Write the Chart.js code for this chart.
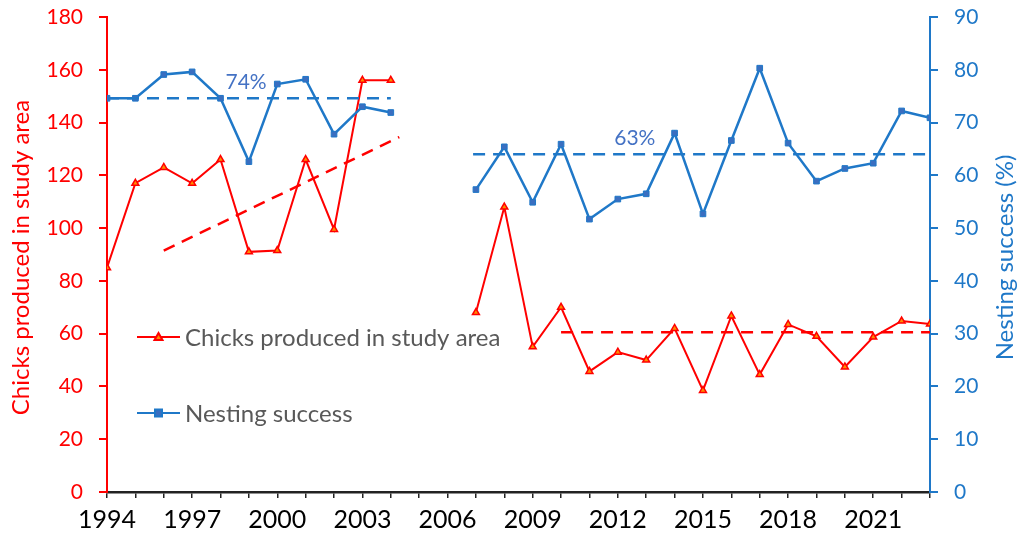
<!DOCTYPE html>
<html>
<head>
<meta charset="utf-8">
<script src="https://cdn.jsdelivr.net/npm/chart.js@4.4.0/dist/chart.umd.min.js"></script>
<style>
  html, body { margin: 0; padding: 0; background: #fff; }
  #wrap { width: 1018px; height: 541px; }
</style>
</head>
<body>
<div id="wrap"><canvas id="myChart"></canvas></div>
<script>
// data
let years = [1994, 1995, 1996, 1997, 1998, 1999, 2000, 2001, 2002, 2003, 2004, 2005, 2006,
  2007, 2008, 2009, 2010, 2011, 2012, 2013, 2014, 2015, 2016, 2017, 2018, 2019, 2020, 2021, 2022, 2023];
let chicks = [85, 117, 123, 117, 126, 91, 91.5, 126, 99.5, 156, 156, null, null,
  68, 108, 55, 70, 45.7, 53, 50, 62, 38.5, 66.7, 44.5, 63.5, 59, 47.4, 58.7, 64.8, 63.7];
let nesting = [74.6, 74.6, 79.1, 79.6, 74.6, 62.6, 77.3, 78.2, 67.8, 73, 71.9, null, null,
  57.3, 65.4, 54.9, 65.9, 51.7, 55.5, 56.5, 68, 52.7, 66.6, 80.3, 66.1, 58.9, 61.3, 62.3, 72.2, 70.9];

// reference lines
let chicksTrend = [[1996, 91.5], [2004.3, 134.5]];
let chicksMean = [[2010, 60.5], [2023, 60.5]];
let nestMeanEarly = [[1994, 74.6], [2004, 74.6]];
let nestMeanLate = [[2006.9, 64], [2023, 64]];
let meanLabels = [['74%', 1998.9, 77.7], ['63%', 2012.6, 67.1]];

let xTickLabels = [1994, 1997, 2000, 2003, 2006, 2009, 2012, 2015, 2018, 2021];

const RED = '#FF0000';
const BLUE = '#1F78C8';
const FONT = 'Lato, "Open Sans", sans-serif';

function pts(xs, ys) {
  return xs.map((x, i) => ({ x: x, y: ys[i] }));
}
function pairs(list) {
  return list.map(p => ({ x: p[0], y: p[1] }));
}

const dashed = (arr, color, axis) => ({
  data: pairs(arr),
  yAxisID: axis,
  borderColor: color,
  borderWidth: 2.5,
  borderDash: [12, 8],
  pointRadius: 0,
  fill: false
});

const legendPlugin = {
  id: 'customLegend',
  afterDraw(chart) {
    const ctx = chart.ctx;
    const xs = chart.scales.x;
    const yr = chart.scales.y2;
    const area = chart.chartArea;
    const midY = (area.top + area.bottom) / 2;
    ctx.save();
    // axis titles, both reading bottom to top
    ctx.font = '24px ' + FONT;
    ctx.textAlign = 'center';
    ctx.textBaseline = 'middle';
    [[21, RED, 'Chicks produced in study area'], [1005, BLUE, 'Nesting success (%)']].forEach(t => {
      ctx.save();
      ctx.translate(t[0], midY + 3);
      ctx.rotate(-Math.PI / 2);
      ctx.fillStyle = t[1];
      ctx.fillText(t[2], 0, 0);
      ctx.restore();
    });
    // mean labels
    ctx.font = '21px ' + FONT;
    ctx.fillStyle = '#4472C4';
    meanLabels.forEach(m => {
      ctx.fillText(m[0], xs.getPixelForValue(m[1]), yr.getPixelForValue(m[2]));
    });
    // legend entries
    const items = [
      { text: 'Chicks produced in study area', color: RED, y: 337, shape: 'tri' },
      { text: 'Nesting success', color: BLUE, y: 413, shape: 'sq' }
    ];
    ctx.font = '24px ' + FONT;
    ctx.textAlign = 'left';
    items.forEach(it => {
      ctx.strokeStyle = it.color;
      ctx.lineWidth = 2;
      ctx.beginPath();
      ctx.moveTo(137, it.y);
      ctx.lineTo(180, it.y);
      ctx.stroke();
      if (it.shape === 'tri') {
        ctx.fillStyle = '#FF8C00';
        ctx.beginPath();
        ctx.moveTo(158.5, it.y - 4);
        ctx.lineTo(162.5, it.y + 3);
        ctx.lineTo(154.5, it.y + 3);
        ctx.closePath();
        ctx.fill();
        ctx.stroke();
      } else {
        ctx.fillStyle = '#3A6EC0';
        ctx.fillRect(155, it.y - 3.5, 7, 7);
        ctx.strokeRect(155, it.y - 3.5, 7, 7);
      }
      ctx.fillStyle = '#595959';
      ctx.fillText(it.text, 185, it.y + 1);
    });
    ctx.restore();
  }
};

const data = {
  datasets: [
    dashed(nestMeanEarly, BLUE, 'y2'),
    dashed(nestMeanLate, BLUE, 'y2'),
    {
      label: 'Nesting success',
      data: pts(years, nesting),
      yAxisID: 'y2',
      borderColor: BLUE,
      borderWidth: 2.5,
      pointStyle: 'rect',
      pointRadius: 4,
      pointBackgroundColor: '#3A6EC0',
      pointBorderColor: BLUE,
      pointBorderWidth: 1,
      spanGaps: false,
      tension: 0
    },
    dashed(chicksTrend, RED, 'y'),
    dashed(chicksMean, RED, 'y'),
    {
      label: 'Chicks produced in study area',
      data: pts(years, chicks),
      yAxisID: 'y',
      borderColor: RED,
      borderWidth: 2,
      pointStyle: 'triangle',
      pointRadius: 4,
      pointBackgroundColor: '#FF8C00',
      pointBorderColor: RED,
      pointBorderWidth: 1.5,
      spanGaps: false,
      tension: 0
    }
  ]
};

// fixed box sizes so the plot area lands where the original has it
function fixY(width) {
  return s => {
    s.width = width;
    s.paddingTop = 0;
    s.paddingBottom = 0;
  };
}

const config = {
  type: 'line',
  data: data,
  plugins: [legendPlugin],
  options: {
    responsive: true,
    maintainAspectRatio: false,
    animation: false,
    layout: { padding: { top: 17, left: 0, right: 0, bottom: 0 } },
    plugins: {
      legend: { display: false },
      tooltip: { enabled: false }
    },
    scales: {
      x: {
        type: 'linear',
        min: 1994,
        max: 2023,
        afterFit: s => { s.height = 49; s.paddingLeft = 0; s.paddingRight = 0; },
        afterBuildTicks: s => {
          s.ticks = [];
          for (let y = 1994; y <= 2023; y++) s.ticks.push({ value: y });
        },
        ticks: {
          autoSkip: false,
          maxRotation: 0,
          color: '#000',
          padding: 7,
          font: { family: FONT, size: 25 },
          callback: v => xTickLabels.includes(v) ? String(v) : ''
        },
        grid: { drawOnChartArea: false, tickLength: 6, color: '#222', lineWidth: 1.5 },
        border: { color: '#222', width: 2.5 }
      },
      y: {
        position: 'left',
        min: 0,
        max: 180,
        afterFit: fixY(107),
        ticks: { stepSize: 20, color: RED, padding: 16, font: { family: FONT, size: 21 } },
        grid: { drawOnChartArea: false, tickLength: 8, color: RED, lineWidth: 2 },
        border: { color: RED, width: 2 }
      },
      y2: {
        position: 'right',
        min: 0,
        max: 90,
        afterFit: fixY(88),
        ticks: { stepSize: 10, color: BLUE, padding: 16, font: { family: FONT, size: 21 } },
        grid: { drawOnChartArea: false, tickLength: 8, color: BLUE, lineWidth: 2 },
        border: { color: BLUE, width: 2 }
      }
    }
  }
};

const myChart = new Chart(document.getElementById('myChart'), config);
</script>
</body>
</html>
